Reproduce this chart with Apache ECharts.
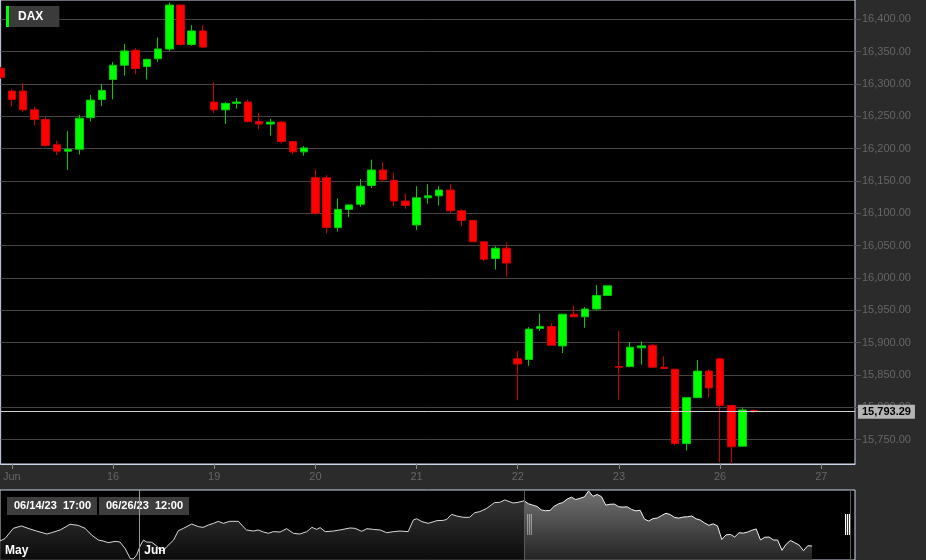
<!DOCTYPE html>
<html><head><meta charset="utf-8">
<script src="https://cdn.jsdelivr.net/npm/echarts@6/dist/echarts.min.js"></script>
<style>html,body{margin:0;padding:0;background:#2b2b2b;}#c{width:926px;height:560px;}</style>
</head><body><div id="c"></div>
<script>
// ---------- data ----------
const seriesName = 'DAX';
const sessionDays = ['06/14/23','06/15/23','06/16/23','06/19/23','06/20/23','06/21/23','06/22/23','06/23/23','06/26/23','06/27/23'];
const sessionHours = ['09:00','10:00','11:00','12:00','13:00','14:00','15:00','16:00','17:00'];
const firstSlot = '06/14/23 17:00';
const lastSlot = '06/27/23 12:00';
const xTickDays = ['06/15/23','06/16/23','06/19/23','06/20/23','06/21/23','06/22/23','06/23/23','06/26/23','06/27/23'];
const xTickLabels = ['Jun','16','19','20','21','22','23','26','27'];
const yTickValues = [15750,15800,15850,15900,15950,16000,16050,16100,16150,16200,16250,16300,16350,16400];

const openP  = [16324,16289,16289,16260,16245,16206,16196,16199,16248,16276,16307,16329,16352,16327,16339,16354,16422,16361,16382,
  16272,16260,16270,16272,16242,16238,16241,16211,16195,16155,16155,16078,16106,16114,16143,16167,16151,16119,16082,16124,16127,16136,
  16104,16089,16056,16030,16046,15875,15874,15922,15925,15895,15944,15940,15952,15973,15863,15863,15892,15896,15862,15859,15744,15815,
  15856,15875,15803,15740,15795];
const highP  = [16326,16292,16301,16265,16249,16212,16227,16252,16283,16300,16334,16362,16355,16339,16372,16426,16423,16391,16391,
  16303,16272,16278,16276,16255,16246,16242,16211,16204,16168,16159,16123,16113,16153,16183,16179,16163,16131,16142,16145,16142,16145,
  16106,16089,16057,16049,16055,15887,15924,15945,15930,15944,15957,15955,15989,15988,15918,15901,15902,15898,15879,15859,15816,15873,
  15859,15876,15803,15800,15797];
const lowP   = [16308,16265,16257,16236,16203,16190,16167,16191,16242,16266,16276,16313,16315,16307,16334,16351,16359,16359,16356,
  16255,16238,16262,16240,16230,16220,16208,16192,16189,16098,16069,16072,16094,16110,16139,16149,16111,16107,16074,16115,16112,16100,
  16080,16056,16026,16013,16002,15811,15864,15918,15896,15884,15940,15923,15950,15973,15812,15862,15866,15862,15859,15741,15733,15815,
  15815,15715,15713,15739,15792];
const closeP = [16310,16276,16260,16245,16205,16196,16199,16247,16275,16290,16329,16351,16324,16338,16354,16422,16361,16382,16357,
  16260,16270,16272,16242,16238,16241,16211,16195,16201,16100,16078,16106,16113,16142,16167,16152,16119,16112,16124,16127,16136,16104,
  16089,16056,16029,16046,16023,15867,15921,15925,15896,15944,15940,15952,15973,15988,15862,15893,15895,15862,15860,15744,15815,15856,
  15830,15803,15739,15796,15793.29];

// navigator history before the visible range (hourly bar slot, close)
const navPreSlot = [0,1.2,3.1,5,7,8.5,10.9,12,14,16.3,18.2,19.8,21.3,22.9,24,25.2,26.8,27.9,29.1,30.3,
  31,31.8,32.6,33.4,34.1,35.3,36.5,37.2,38,38.8,39.6,40.4,41.5,42.7,44.6,46.2,47.3,48.5,49.7,50.8,
  52,53.5,55.5,56.6,57.4,59,60.1,61.3,62.5,63.6,65.2,66.7,68.3,69.8,71.4,72.6,73.7,74.5,75.7,77.6,
  79.1,81.5,82.6,84.2,85.4,86.9,88.5,90,91.6,93.1,95,96.2,97,98.2,99.7,101.7,103.2,104,105.1,106.3,
  107.8,109.3,110.5,111.7,113.2,115.1,116.3,117.5,119.4,120.6];
const navPreClose = [15850,15880,15995,16022,15987,15964,15930,15945,15976,16041,16029,15995,15919,15861,15850,15831,15846,15839,15766,15652,
  15644,15690,15793,15861,15839,15835,15793,15747,15739,15785,15823,15861,15968,15995,16044,16014,16006,16033,16052,16075,
  16052,16075,16075,16014,15976,15964,15976,15953,15938,15957,15953,15991,15938,15930,15957,16006,15983,16003,15957,15964,
  15976,15999,15995,15961,15991,15983,15976,15945,15957,15964,15957,16090,16105,16071,16052,16083,16086,16098,16155,16136,
  16121,16121,16174,16186,16220,16289,16292,16319,16285,16292];
const navStartSlot = 122;      // slot of the first visible bar in the navigator
const navSlotCount = 200;
const navMonthSlots = [0, 32.4];
const navMonthLabels = ['May', 'Jun'];
const navRangeLabels = ['06/14/23  17:00', '06/26/23  12:00'];

// ---------- build ----------
const allSlots = [];
sessionDays.forEach(d => sessionHours.forEach(h => allSlots.push(d + ' ' + h)));
const categories = allSlots.slice(allSlots.indexOf(firstSlot), allSlots.indexOf(lastSlot) + 1);
const ohlc = openP.map((o, i) => [o, closeP[i], lowP[i], highP[i]]);
const lastClose = closeP[closeP.length - 1];
const fmt = v => Number(v).toLocaleString('en-US', {minimumFractionDigits: 2, maximumFractionDigits: 2});
const isTick = (idx, val) => {
  const [d, h] = String(val).split(' ');
  return h === '09:00' && xTickDays.indexOf(d) >= 0;
};
const tickLabel = val => {
  const d = String(val).split(' ')[0];
  const i = xTickDays.indexOf(d);
  return i >= 0 ? xTickLabels[i] : '';
};
const navPre = navPreSlot.map((s, i) => [s, navPreClose[i]]);
navPre.push([navStartSlot, closeP[0]]);
const navSel = closeP.map((c, i) => [navStartSlot + i, c]);

const FONT = "'Liberation Sans', Arial, sans-serif";
const chart = echarts.init(document.getElementById('c'), null, {renderer: 'canvas'});
chart.setOption({
  backgroundColor: '#2b2b2b',
  animation: false,
  textStyle: {fontFamily: FONT},
  legend: {
    left: 6, top: 6, selectedMode: false,
    data: [{name: seriesName, icon: 'rect', itemStyle: {color: '#00ff00', borderWidth: 0}}],
    itemWidth: 3, itemHeight: 21,
    backgroundColor: '#3b3b3b', padding: [0, 16, 0, 0],
    textStyle: {color: '#ffffff', fontSize: 12, fontWeight: 'bold', padding: [0, 0, 0, 4], fontFamily: FONT}
  },
  grid: [
    {left: 0, top: 0, width: 855, height: 464, show: true, backgroundColor: '#000', borderColor: '#ccd6eb', borderWidth: 1},
    {left: 0, top: 490, width: 855, height: 70, show: true, backgroundColor: '#000', borderColor: '#ccd6eb', borderWidth: 1}
  ],
  xAxis: [
    {
      type: 'category', gridIndex: 0, data: categories, boundaryGap: false,
      axisLine: {show: true, lineStyle: {color: '#ccd6eb'}},
      axisTick: {show: true, interval: isTick, length: 5, lineStyle: {color: '#8a8a8a'}},
      axisLabel: {interval: isTick, formatter: tickLabel, color: '#666', fontSize: 11, margin: 7},
      splitLine: {show: false}
    },
    {
      type: 'value', gridIndex: 1, min: 0, max: navSlotCount - 1, z: 5,
      axisLine: {show: false}, axisTick: {show: false}, splitLine: {show: false},
      axisLabel: {show: true, inside: true, customValues: navMonthSlots,
        formatter: v => navMonthLabels[navMonthSlots.indexOf(v)] || '',
        color: '#fff', fontWeight: 'bold', fontSize: 12, align: 'left', padding: [0, 0, 0, 5], margin: 3}
    }
  ],
  yAxis: [
    {
      type: 'value', gridIndex: 0, position: 'right', min: 15712.4, max: 16429.8,
      axisLine: {show: false},
      axisTick: {show: true, length: 6, lineStyle: {color: '#555'}, customValues: yTickValues},
      axisLabel: {color: '#666', fontSize: 11, margin: 7, customValues: yTickValues, formatter: v => fmt(v)},
      splitLine: {show: true, lineStyle: {color: '#444'}}
    },
    {type: 'value', gridIndex: 1, show: false, min: v => v.min - 11, max: v => v.max + 11,
      splitLine: {show: false}}
  ],
  series: [
    {
      type: 'candlestick', name: seriesName, xAxisIndex: 0, yAxisIndex: 0,
      data: ohlc, barWidth: 8, clip: true,
      itemStyle: {color: '#00ff00', color0: '#ff0000', borderColor: '#00cc00', borderColor0: '#d00000', borderWidth: 1},
      markLine: {
        silent: true, symbol: 'none', animation: false,
        lineStyle: {color: '#cfcfcf', type: 'solid', width: 1},
        label: {show: true, position: 'end', formatter: p => fmt(p.value), backgroundColor: '#b5b5b5',
          color: '#000', fontWeight: 'bold', fontSize: 11, padding: [2, 4, 1, 4], distance: 3},
        data: [{yAxis: lastClose}]
      }
    },
    {
      type: 'line', name: 'navPast', xAxisIndex: 1, yAxisIndex: 1, data: navPre, symbol: 'none',
      lineStyle: {color: '#d8d8d8', width: 1}, silent: true,
      areaStyle: {color: new echarts.graphic.LinearGradient(0, 0, 0, 1, [{offset: 0, color: '#4a4a4a'}, {offset: 1, color: '#101010'}])},
      markLine: {silent: true, symbol: 'none', label: {show: false},
        data: [{xAxis: navMonthSlots[1], lineStyle: {color: '#9a9a9a', type: 'solid', width: 1}}]}
    },
    {
      type: 'line', name: 'navRange', xAxisIndex: 1, yAxisIndex: 1, data: navSel, symbol: 'none',
      lineStyle: {color: '#f0f0f0', width: 1}, silent: true,
      areaStyle: {color: new echarts.graphic.LinearGradient(0, 0, 0, 1, [{offset: 0, color: '#a3a3a3'}, {offset: 1, color: '#333333'}])},
      markLine: {silent: true, symbol: 'none', label: {show: false},
        lineStyle: {color: '#5a5a5a', type: 'solid', width: 1},
        data: [{xAxis: navStartSlot}, {xAxis: navStartSlot + categories.length - 1}]}
    }
  ]
});

// navigator handles and range labels
const xs = Math.round(chart.convertToPixel({xAxisIndex: 1}, navStartSlot));
const xe = Math.round(chart.convertToPixel({xAxisIndex: 1}, navStartSlot + categories.length - 1));
function handle(x) {
  return {type: 'group', x: x, y: 514, z: 100, children: [
    {type: 'rect', shape: {x: 0, y: 0, width: 5, height: 21}, style: {fill: '#3a3a3a'}},
    {type: 'rect', shape: {x: 0, y: 0, width: 1, height: 21}, style: {fill: '#fff'}},
    {type: 'rect', shape: {x: 2, y: 0, width: 1, height: 21}, style: {fill: '#fff'}},
    {type: 'rect', shape: {x: 4, y: 0, width: 1, height: 21}, style: {fill: '#fff'}}
  ]};
}
function rangeBox(x, txt) {
  return {type: 'group', x: x, y: 497, z: 100, children: [
    {type: 'rect', shape: {x: 0, y: 0, width: 90, height: 18}, style: {fill: '#3d3d3d'}},
    {type: 'text', x: 7, y: 9, style: {text: txt, fill: '#fff', font: 'bold 11px ' + FONT, verticalAlign: 'middle'}}
  ]};
}
chart.setOption({graphic: [handle(xs + 3), handle(xe - 6), rangeBox(7, navRangeLabels[0]), rangeBox(99, navRangeLabels[1])]});
</script></body></html>
